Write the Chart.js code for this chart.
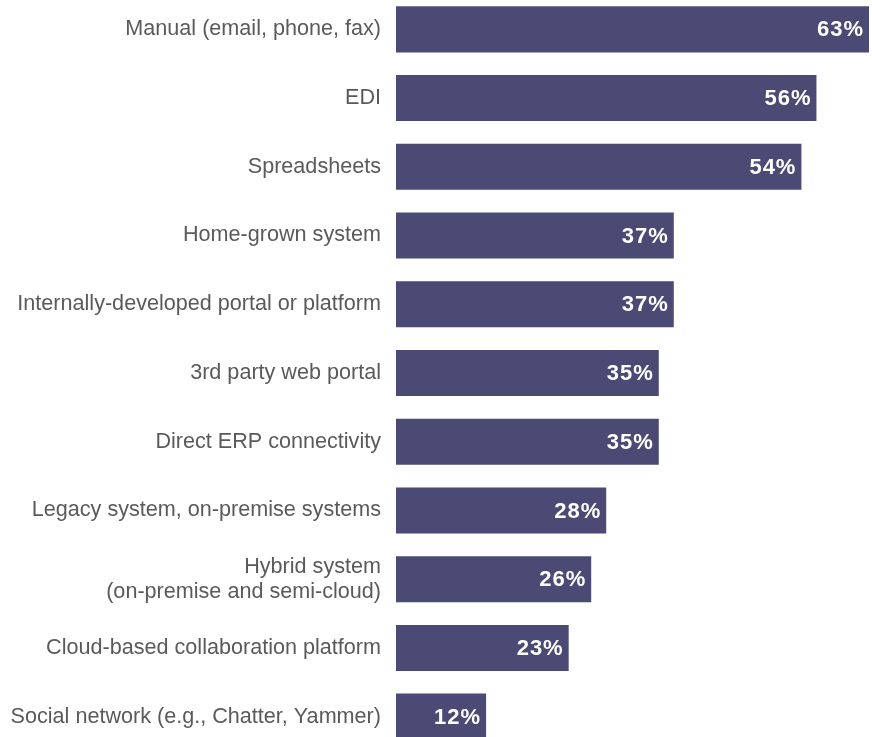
<!DOCTYPE html>
<html>
<head>
<meta charset="utf-8">
<script src="https://cdn.jsdelivr.net/npm/chart.js@4"></script>
<style>
  html, body { margin: 0; padding: 0; background: #fff; overflow: hidden; }
  #wrap { position: absolute; left: 0; top: -5px; width: 872px; height: 756px; }
</style>
</head>
<body>
<div id="wrap"><canvas id="myChart"></canvas></div>
<script>
const categories = [
    'Manual (email, phone, fax)',
    'EDI',
    'Spreadsheets',
    'Home-grown system',
    'Internally-developed portal or platform',
    '3rd party web portal',
    'Direct ERP connectivity',
    'Legacy system, on-premise systems',
    ['Hybrid system', '(on-premise and semi-cloud)'],
    'Cloud-based collaboration platform',
    'Social network (e.g., Chatter, Yammer)'
];
const values = [63, 56, 54, 37, 37, 35, 35, 28, 26, 23, 12];
const valueLabels = ['63%', '56%', '54%', '37%', '37%', '35%', '35%', '28%', '26%', '23%', '12%'];

const barColor = '#4a4a75';
const fontFamily = '"Liberation Sans", Arial, Helvetica, sans-serif';

// white value text inside the end of each bar
const barLabels = {
    id: 'barLabels',
    afterDatasetsDraw(chart) {
        const ctx = chart.ctx;
        const meta = chart.getDatasetMeta(0);
        ctx.save();
        ctx.fillStyle = '#ffffff';
        ctx.font = 'bold 22px ' + fontFamily;
        ctx.letterSpacing = '1px';
        ctx.textAlign = 'right';
        ctx.textBaseline = 'middle';
        meta.data.forEach((bar, i) => {
            ctx.fillText(valueLabels[i], bar.x - 5, bar.y + 1);
        });
        ctx.restore();
    }
};

const chartBars = () => {
    const getChart = document.getElementById('myChart');

    new Chart(getChart, {
        type: 'bar',
        data: {
            labels: categories,
            datasets: [{
                data: values,
                backgroundColor: barColor,
                borderWidth: 0,
                barPercentage: 0.67,
                categoryPercentage: 1.0
            }]
        },
        options: {
            indexAxis: 'y',
            maintainAspectRatio: false,
            animation: false,
            layout: { padding: 0 },
            plugins: {
                legend: { display: false },
                tooltip: { enabled: false }
            },
            scales: {
                x: {
                    display: false,
                    min: 0,
                    max: 63.4
                },
                y: {
                    border: { display: false },
                    grid: { display: false, drawTicks: false },
                    afterFit: (scale) => {
                        scale.width = 396;
                        scale.paddingTop = 0;
                        scale.paddingBottom = 0;
                    },
                    ticks: {
                        color: '#5a5a5a',
                        padding: 15,
                        font: { family: fontFamily, size: 21.6, lineHeight: 1.15 }
                    }
                }
            }
        },
        plugins: [barLabels]
    });
};

chartBars();
</script>
</body>
</html>
